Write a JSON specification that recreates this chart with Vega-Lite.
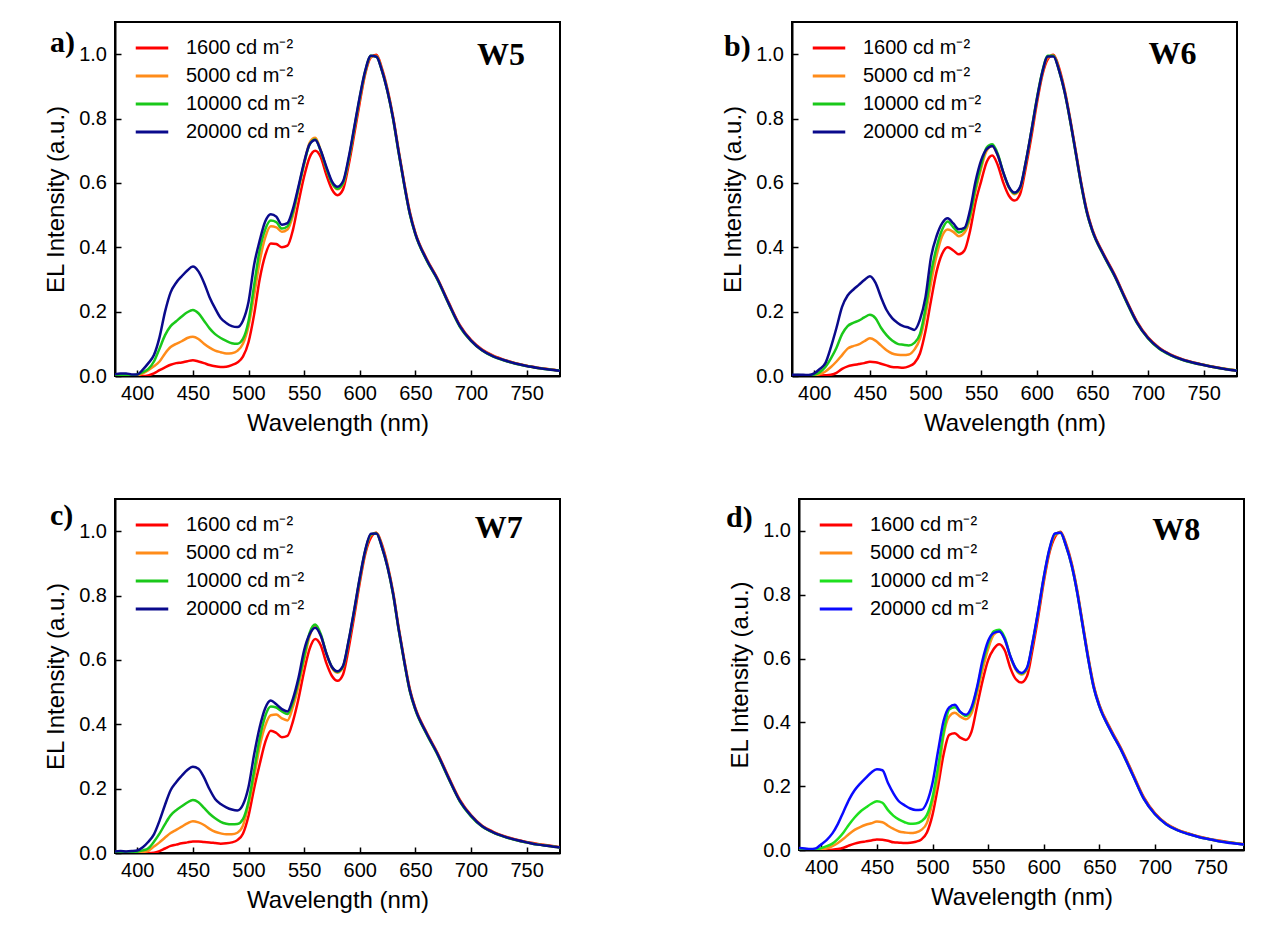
{
"$schema": "https://vega.github.io/schema/vega-lite/v6.json",
"padding": {"left": 43, "top": 21, "right": 0, "bottom": 0},
"autosize": {"type": "pad"},
"background": "white",
"config": {
 "view": {"stroke": "black", "strokeWidth": 2},
 "axis": {"domainColor": "black", "domainWidth": 2, "tickColor": "black", "tickWidth": 1.5, "labelColor": "black", "titleColor": "black", "labelFont": "Liberation Sans", "titleFont": "Liberation Sans", "labelFontSize": 20, "titleFontSize": 24, "titleFontWeight": "normal", "grid": false, "labelOverlap": false, "labelFlush": false},
 "legend": {"orient": "none", "legendX": 23, "legendY": 12, "title": null, "padding": 0, "symbolType": "M-1.3,0H1.3", "symbolSize": 625, "symbolStrokeWidth": 3, "labelFontSize": 20, "labelFont": "Liberation Sans", "labelColor": "black", "labelOffset": 20, "rowPadding": 4}
},
"datasets": {"spectra": [
{"p":"a","w":380,"r":0,"o":0,"g":0.002,"n":0.005},
{"p":"a","w":385,"r":0,"o":0.002,"g":0.004,"n":0.008},
{"p":"a","w":390,"r":0,"o":0.002,"g":0.004,"n":0.008},
{"p":"a","w":395,"r":0,"o":0,"g":0.002,"n":0.005},
{"p":"a","w":400,"r":0,"o":0.002,"g":0.005,"n":0.005},
{"p":"a","w":405,"r":0,"o":0.008,"g":0.012,"n":0.02},
{"p":"a","w":410,"r":0.002,"o":0.018,"g":0.022,"n":0.04},
{"p":"a","w":415,"r":0.008,"o":0.03,"g":0.045,"n":0.065},
{"p":"a","w":420,"r":0.018,"o":0.045,"g":0.085,"n":0.12},
{"p":"a","w":425,"r":0.027,"o":0.07,"g":0.127,"n":0.2},
{"p":"a","w":430,"r":0.035,"o":0.09,"g":0.155,"n":0.26},
{"p":"a","w":435,"r":0.04,"o":0.1,"g":0.17,"n":0.29},
{"p":"a","w":440,"r":0.042,"o":0.108,"g":0.185,"n":0.31},
{"p":"a","w":445,"r":0.046,"o":0.118,"g":0.198,"n":0.328},
{"p":"a","w":450,"r":0.049,"o":0.122,"g":0.205,"n":0.34},
{"p":"a","w":455,"r":0.045,"o":0.115,"g":0.195,"n":0.325},
{"p":"a","w":460,"r":0.04,"o":0.1,"g":0.172,"n":0.29},
{"p":"a","w":465,"r":0.034,"o":0.088,"g":0.148,"n":0.245},
{"p":"a","w":470,"r":0.03,"o":0.079,"g":0.13,"n":0.21},
{"p":"a","w":475,"r":0.028,"o":0.074,"g":0.118,"n":0.18},
{"p":"a","w":480,"r":0.029,"o":0.07,"g":0.109,"n":0.165},
{"p":"a","w":485,"r":0.034,"o":0.071,"g":0.102,"n":0.155},
{"p":"a","w":490,"r":0.042,"o":0.078,"g":0.1,"n":0.152},
{"p":"a","w":495,"r":0.06,"o":0.1,"g":0.115,"n":0.172},
{"p":"a","w":500,"r":0.105,"o":0.155,"g":0.17,"n":0.23},
{"p":"a","w":505,"r":0.19,"o":0.25,"g":0.28,"n":0.345},
{"p":"a","w":510,"r":0.3,"o":0.355,"g":0.39,"n":0.42},
{"p":"a","w":515,"r":0.375,"o":0.43,"g":0.455,"n":0.48},
{"p":"a","w":520,"r":0.412,"o":0.465,"g":0.483,"n":0.503},
{"p":"a","w":525,"r":0.41,"o":0.462,"g":0.478,"n":0.495},
{"p":"a","w":530,"r":0.4,"o":0.448,"g":0.458,"n":0.47},
{"p":"a","w":535,"r":0.405,"o":0.455,"g":0.465,"n":0.475},
{"p":"a","w":540,"r":0.455,"o":0.5,"g":0.51,"n":0.52},
{"p":"a","w":545,"r":0.54,"o":0.58,"g":0.585,"n":0.59},
{"p":"a","w":550,"r":0.62,"o":0.66,"g":0.66,"n":0.665},
{"p":"a","w":555,"r":0.68,"o":0.725,"g":0.72,"n":0.72},
{"p":"a","w":560,"r":0.7,"o":0.74,"g":0.735,"n":0.733},
{"p":"a","w":565,"r":0.68,"o":0.7,"g":0.698,"n":0.7},
{"p":"a","w":570,"r":0.625,"o":0.645,"g":0.645,"n":0.65},
{"p":"a","w":575,"r":0.58,"o":0.6,"g":0.6,"n":0.605},
{"p":"a","w":580,"r":0.562,"o":0.58,"g":0.582,"n":0.588},
{"p":"a","w":585,"r":0.58,"o":0.597,"g":0.6,"n":0.605},
{"p":"a","w":590,"r":0.655,"o":0.67,"g":0.672,"n":0.678},
{"p":"a","w":595,"r":0.75,"o":0.765,"g":0.768,"n":0.772},
{"p":"a","w":600,"r":0.85,"o":0.86,"g":0.865,"n":0.868},
{"p":"a","w":605,"r":0.94,"o":0.945,"g":0.948,"n":0.95},
{"p":"a","w":610,"r":0.99,"o":0.992,"g":0.995,"n":0.995},
{"p":"a","w":615,"r":0.998,"o":0.995,"g":0.992,"n":0.992},
{"p":"a","w":620,"r":0.955,"o":0.95,"g":0.948,"n":0.948},
{"p":"a","w":625,"r":0.89,"o":0.885,"g":0.883,"n":0.883},
{"p":"a","w":630,"r":0.805,"o":0.8,"g":0.798,"n":0.8},
{"p":"a","w":635,"r":0.7,"o":0.695,"g":0.693,"n":0.695},
{"p":"a","w":640,"r":0.6,"o":0.595,"g":0.593,"n":0.595},
{"p":"a","w":645,"r":0.51,"o":0.505,"g":0.503,"n":0.505},
{"p":"a","w":650,"r":0.445,"o":0.442,"g":0.44,"n":0.442},
{"p":"a","w":660,"r":0.365,"o":0.362,"g":0.36,"n":0.362},
{"p":"a","w":670,"r":0.302,"o":0.3,"g":0.298,"n":0.3},
{"p":"a","w":680,"r":0.228,"o":0.225,"g":0.223,"n":0.225},
{"p":"a","w":690,"r":0.158,"o":0.155,"g":0.153,"n":0.155},
{"p":"a","w":700,"r":0.112,"o":0.11,"g":0.109,"n":0.11},
{"p":"a","w":710,"r":0.082,"o":0.08,"g":0.079,"n":0.08},
{"p":"a","w":720,"r":0.063,"o":0.062,"g":0.06,"n":0.061},
{"p":"a","w":730,"r":0.05,"o":0.049,"g":0.048,"n":0.049},
{"p":"a","w":740,"r":0.04,"o":0.039,"g":0.038,"n":0.039},
{"p":"a","w":750,"r":0.032,"o":0.031,"g":0.031,"n":0.031},
{"p":"a","w":760,"r":0.026,"o":0.025,"g":0.025,"n":0.025},
{"p":"a","w":770,"r":0.021,"o":0.021,"g":0.02,"n":0.02},
{"p":"a","w":780,"r":0.017,"o":0.017,"g":0.017,"n":0.016},
{"p":"b","w":380,"r":0.002,"o":0.002,"g":0.002,"n":0.004},
{"p":"b","w":385,"r":0.002,"o":0.002,"g":0.003,"n":0.004},
{"p":"b","w":390,"r":0.001,"o":0.002,"g":0.002,"n":0.004},
{"p":"b","w":395,"r":0,"o":0,"g":0.001,"n":0.003},
{"p":"b","w":400,"r":0,"o":0.002,"g":0.004,"n":0.008},
{"p":"b","w":405,"r":0.001,"o":0.006,"g":0.012,"n":0.022},
{"p":"b","w":410,"r":0.002,"o":0.014,"g":0.028,"n":0.04},
{"p":"b","w":415,"r":0.004,"o":0.028,"g":0.055,"n":0.09},
{"p":"b","w":420,"r":0.01,"o":0.045,"g":0.088,"n":0.15},
{"p":"b","w":425,"r":0.022,"o":0.065,"g":0.13,"n":0.215},
{"p":"b","w":430,"r":0.03,"o":0.085,"g":0.155,"n":0.25},
{"p":"b","w":435,"r":0.034,"o":0.093,"g":0.165,"n":0.268},
{"p":"b","w":440,"r":0.037,"o":0.098,"g":0.172,"n":0.283},
{"p":"b","w":445,"r":0.04,"o":0.108,"g":0.182,"n":0.298},
{"p":"b","w":450,"r":0.044,"o":0.117,"g":0.19,"n":0.31},
{"p":"b","w":455,"r":0.043,"o":0.11,"g":0.18,"n":0.29},
{"p":"b","w":460,"r":0.038,"o":0.095,"g":0.15,"n":0.245},
{"p":"b","w":465,"r":0.033,"o":0.08,"g":0.127,"n":0.205},
{"p":"b","w":470,"r":0.028,"o":0.07,"g":0.11,"n":0.18},
{"p":"b","w":475,"r":0.027,"o":0.066,"g":0.1,"n":0.165},
{"p":"b","w":480,"r":0.026,"o":0.065,"g":0.097,"n":0.155},
{"p":"b","w":485,"r":0.03,"o":0.067,"g":0.095,"n":0.15},
{"p":"b","w":490,"r":0.04,"o":0.082,"g":0.103,"n":0.143},
{"p":"b","w":495,"r":0.07,"o":0.115,"g":0.13,"n":0.175},
{"p":"b","w":500,"r":0.14,"o":0.19,"g":0.21,"n":0.245},
{"p":"b","w":505,"r":0.235,"o":0.29,"g":0.32,"n":0.37},
{"p":"b","w":510,"r":0.325,"o":0.375,"g":0.4,"n":0.435},
{"p":"b","w":515,"r":0.38,"o":0.435,"g":0.455,"n":0.475},
{"p":"b","w":520,"r":0.4,"o":0.455,"g":0.48,"n":0.49},
{"p":"b","w":525,"r":0.39,"o":0.448,"g":0.462,"n":0.474},
{"p":"b","w":530,"r":0.378,"o":0.434,"g":0.446,"n":0.456},
{"p":"b","w":535,"r":0.39,"o":0.445,"g":0.456,"n":0.46},
{"p":"b","w":540,"r":0.45,"o":0.49,"g":0.5,"n":0.515},
{"p":"b","w":545,"r":0.54,"o":0.575,"g":0.585,"n":0.605},
{"p":"b","w":550,"r":0.605,"o":0.645,"g":0.655,"n":0.67},
{"p":"b","w":555,"r":0.665,"o":0.7,"g":0.71,"n":0.705},
{"p":"b","w":560,"r":0.685,"o":0.715,"g":0.72,"n":0.715},
{"p":"b","w":565,"r":0.655,"o":0.685,"g":0.69,"n":0.685},
{"p":"b","w":570,"r":0.6,"o":0.63,"g":0.632,"n":0.632},
{"p":"b","w":575,"r":0.56,"o":0.585,"g":0.587,"n":0.588},
{"p":"b","w":580,"r":0.545,"o":0.565,"g":0.568,"n":0.57},
{"p":"b","w":585,"r":0.565,"o":0.582,"g":0.585,"n":0.587},
{"p":"b","w":590,"r":0.645,"o":0.66,"g":0.662,"n":0.663},
{"p":"b","w":595,"r":0.74,"o":0.755,"g":0.758,"n":0.758},
{"p":"b","w":600,"r":0.845,"o":0.855,"g":0.86,"n":0.858},
{"p":"b","w":605,"r":0.935,"o":0.942,"g":0.946,"n":0.944},
{"p":"b","w":610,"r":0.985,"o":0.99,"g":0.995,"n":0.993},
{"p":"b","w":615,"r":0.998,"o":0.996,"g":0.995,"n":0.993},
{"p":"b","w":620,"r":0.958,"o":0.952,"g":0.95,"n":0.95},
{"p":"b","w":625,"r":0.89,"o":0.885,"g":0.883,"n":0.883},
{"p":"b","w":630,"r":0.8,"o":0.795,"g":0.793,"n":0.795},
{"p":"b","w":635,"r":0.7,"o":0.695,"g":0.693,"n":0.695},
{"p":"b","w":640,"r":0.6,"o":0.595,"g":0.593,"n":0.595},
{"p":"b","w":645,"r":0.515,"o":0.51,"g":0.508,"n":0.51},
{"p":"b","w":650,"r":0.455,"o":0.452,"g":0.45,"n":0.452},
{"p":"b","w":660,"r":0.38,"o":0.377,"g":0.375,"n":0.377},
{"p":"b","w":670,"r":0.315,"o":0.312,"g":0.31,"n":0.312},
{"p":"b","w":680,"r":0.24,"o":0.237,"g":0.235,"n":0.237},
{"p":"b","w":690,"r":0.17,"o":0.167,"g":0.165,"n":0.167},
{"p":"b","w":700,"r":0.12,"o":0.118,"g":0.117,"n":0.118},
{"p":"b","w":710,"r":0.088,"o":0.086,"g":0.085,"n":0.086},
{"p":"b","w":720,"r":0.067,"o":0.066,"g":0.065,"n":0.066},
{"p":"b","w":730,"r":0.053,"o":0.052,"g":0.051,"n":0.052},
{"p":"b","w":740,"r":0.043,"o":0.042,"g":0.041,"n":0.042},
{"p":"b","w":750,"r":0.035,"o":0.034,"g":0.034,"n":0.034},
{"p":"b","w":760,"r":0.028,"o":0.027,"g":0.027,"n":0.027},
{"p":"b","w":770,"r":0.022,"o":0.022,"g":0.021,"n":0.021},
{"p":"b","w":780,"r":0.017,"o":0.017,"g":0.017,"n":0.016},
{"p":"c","w":380,"r":0.003,"o":0.002,"g":0.003,"n":0.005},
{"p":"c","w":385,"r":0.002,"o":0.003,"g":0.004,"n":0.006},
{"p":"c","w":390,"r":0.002,"o":0.002,"g":0.003,"n":0.005},
{"p":"c","w":395,"r":0,"o":0.001,"g":0.003,"n":0.006},
{"p":"c","w":400,"r":0,"o":0.001,"g":0.004,"n":0.008},
{"p":"c","w":405,"r":0,"o":0.003,"g":0.008,"n":0.018},
{"p":"c","w":410,"r":0,"o":0.007,"g":0.015,"n":0.035},
{"p":"c","w":415,"r":0.001,"o":0.02,"g":0.035,"n":0.058},
{"p":"c","w":420,"r":0.006,"o":0.033,"g":0.06,"n":0.1},
{"p":"c","w":425,"r":0.014,"o":0.048,"g":0.09,"n":0.15},
{"p":"c","w":430,"r":0.022,"o":0.062,"g":0.117,"n":0.195},
{"p":"c","w":435,"r":0.026,"o":0.072,"g":0.133,"n":0.22},
{"p":"c","w":440,"r":0.03,"o":0.082,"g":0.145,"n":0.24},
{"p":"c","w":445,"r":0.033,"o":0.092,"g":0.157,"n":0.258},
{"p":"c","w":450,"r":0.036,"o":0.099,"g":0.165,"n":0.268},
{"p":"c","w":455,"r":0.036,"o":0.095,"g":0.158,"n":0.262},
{"p":"c","w":460,"r":0.034,"o":0.087,"g":0.14,"n":0.235},
{"p":"c","w":465,"r":0.033,"o":0.075,"g":0.122,"n":0.198},
{"p":"c","w":470,"r":0.031,"o":0.066,"g":0.108,"n":0.168},
{"p":"c","w":475,"r":0.029,"o":0.061,"g":0.097,"n":0.152},
{"p":"c","w":480,"r":0.03,"o":0.058,"g":0.091,"n":0.142},
{"p":"c","w":485,"r":0.033,"o":0.058,"g":0.089,"n":0.135},
{"p":"c","w":490,"r":0.04,"o":0.063,"g":0.09,"n":0.132},
{"p":"c","w":495,"r":0.06,"o":0.085,"g":0.105,"n":0.15},
{"p":"c","w":500,"r":0.115,"o":0.15,"g":0.16,"n":0.205},
{"p":"c","w":505,"r":0.2,"o":0.235,"g":0.255,"n":0.305},
{"p":"c","w":510,"r":0.275,"o":0.33,"g":0.355,"n":0.39},
{"p":"c","w":515,"r":0.344,"o":0.395,"g":0.425,"n":0.45},
{"p":"c","w":520,"r":0.38,"o":0.428,"g":0.455,"n":0.474},
{"p":"c","w":525,"r":0.373,"o":0.43,"g":0.452,"n":0.462},
{"p":"c","w":530,"r":0.36,"o":0.418,"g":0.44,"n":0.447},
{"p":"c","w":535,"r":0.364,"o":0.412,"g":0.432,"n":0.44},
{"p":"c","w":540,"r":0.41,"o":0.455,"g":0.47,"n":0.48},
{"p":"c","w":545,"r":0.48,"o":0.52,"g":0.535,"n":0.545},
{"p":"c","w":550,"r":0.565,"o":0.6,"g":0.61,"n":0.63},
{"p":"c","w":555,"r":0.635,"o":0.675,"g":0.685,"n":0.68},
{"p":"c","w":560,"r":0.665,"o":0.705,"g":0.71,"n":0.7},
{"p":"c","w":565,"r":0.645,"o":0.675,"g":0.68,"n":0.675},
{"p":"c","w":570,"r":0.59,"o":0.62,"g":0.62,"n":0.62},
{"p":"c","w":575,"r":0.55,"o":0.575,"g":0.578,"n":0.578},
{"p":"c","w":580,"r":0.535,"o":0.56,"g":0.563,"n":0.565},
{"p":"c","w":585,"r":0.555,"o":0.578,"g":0.58,"n":0.582},
{"p":"c","w":590,"r":0.635,"o":0.655,"g":0.658,"n":0.66},
{"p":"c","w":595,"r":0.735,"o":0.75,"g":0.753,"n":0.755},
{"p":"c","w":600,"r":0.84,"o":0.85,"g":0.853,"n":0.855},
{"p":"c","w":605,"r":0.93,"o":0.938,"g":0.94,"n":0.942},
{"p":"c","w":610,"r":0.98,"o":0.988,"g":0.99,"n":0.992},
{"p":"c","w":615,"r":0.995,"o":0.995,"g":0.993,"n":0.993},
{"p":"c","w":620,"r":0.958,"o":0.952,"g":0.95,"n":0.95},
{"p":"c","w":625,"r":0.895,"o":0.89,"g":0.888,"n":0.888},
{"p":"c","w":630,"r":0.81,"o":0.805,"g":0.803,"n":0.805},
{"p":"c","w":635,"r":0.7,"o":0.695,"g":0.693,"n":0.695},
{"p":"c","w":640,"r":0.6,"o":0.595,"g":0.593,"n":0.595},
{"p":"c","w":645,"r":0.51,"o":0.505,"g":0.503,"n":0.505},
{"p":"c","w":650,"r":0.45,"o":0.447,"g":0.445,"n":0.447},
{"p":"c","w":660,"r":0.375,"o":0.372,"g":0.37,"n":0.372},
{"p":"c","w":670,"r":0.31,"o":0.307,"g":0.305,"n":0.307},
{"p":"c","w":680,"r":0.235,"o":0.232,"g":0.23,"n":0.232},
{"p":"c","w":690,"r":0.165,"o":0.162,"g":0.16,"n":0.162},
{"p":"c","w":700,"r":0.118,"o":0.116,"g":0.114,"n":0.116},
{"p":"c","w":710,"r":0.085,"o":0.083,"g":0.082,"n":0.083},
{"p":"c","w":720,"r":0.066,"o":0.064,"g":0.063,"n":0.064},
{"p":"c","w":730,"r":0.052,"o":0.051,"g":0.05,"n":0.051},
{"p":"c","w":740,"r":0.042,"o":0.041,"g":0.04,"n":0.041},
{"p":"c","w":750,"r":0.034,"o":0.033,"g":0.033,"n":0.033},
{"p":"c","w":760,"r":0.028,"o":0.027,"g":0.026,"n":0.026},
{"p":"c","w":770,"r":0.023,"o":0.022,"g":0.022,"n":0.022},
{"p":"c","w":780,"r":0.018,"o":0.018,"g":0.017,"n":0.017},
{"p":"d","w":380,"r":0.003,"o":0.003,"g":0.004,"n":0.006},
{"p":"d","w":385,"r":0.002,"o":0.002,"g":0.003,"n":0.005},
{"p":"d","w":390,"r":0.001,"o":0.001,"g":0.002,"n":0.003},
{"p":"d","w":395,"r":0,"o":0,"g":0.002,"n":0.005},
{"p":"d","w":400,"r":0,"o":0.002,"g":0.006,"n":0.018},
{"p":"d","w":405,"r":0,"o":0.005,"g":0.012,"n":0.032},
{"p":"d","w":410,"r":0.001,"o":0.012,"g":0.02,"n":0.052},
{"p":"d","w":415,"r":0.003,"o":0.022,"g":0.035,"n":0.082},
{"p":"d","w":420,"r":0.007,"o":0.035,"g":0.055,"n":0.12},
{"p":"d","w":425,"r":0.014,"o":0.05,"g":0.08,"n":0.158},
{"p":"d","w":430,"r":0.02,"o":0.063,"g":0.102,"n":0.187},
{"p":"d","w":435,"r":0.024,"o":0.072,"g":0.12,"n":0.208},
{"p":"d","w":440,"r":0.027,"o":0.079,"g":0.133,"n":0.226},
{"p":"d","w":445,"r":0.03,"o":0.084,"g":0.145,"n":0.243},
{"p":"d","w":450,"r":0.033,"o":0.089,"g":0.153,"n":0.253},
{"p":"d","w":455,"r":0.032,"o":0.087,"g":0.148,"n":0.25},
{"p":"d","w":460,"r":0.029,"o":0.076,"g":0.125,"n":0.21},
{"p":"d","w":465,"r":0.024,"o":0.066,"g":0.107,"n":0.177},
{"p":"d","w":470,"r":0.023,"o":0.058,"g":0.095,"n":0.152},
{"p":"d","w":475,"r":0.022,"o":0.055,"g":0.087,"n":0.14},
{"p":"d","w":480,"r":0.023,"o":0.053,"g":0.082,"n":0.13},
{"p":"d","w":485,"r":0.026,"o":0.055,"g":0.083,"n":0.125},
{"p":"d","w":490,"r":0.033,"o":0.063,"g":0.09,"n":0.126},
{"p":"d","w":495,"r":0.055,"o":0.085,"g":0.11,"n":0.15},
{"p":"d","w":500,"r":0.11,"o":0.15,"g":0.165,"n":0.21},
{"p":"d","w":505,"r":0.2,"o":0.23,"g":0.26,"n":0.31},
{"p":"d","w":510,"r":0.3,"o":0.36,"g":0.37,"n":0.405},
{"p":"d","w":515,"r":0.361,"o":0.418,"g":0.44,"n":0.447},
{"p":"d","w":520,"r":0.366,"o":0.43,"g":0.447,"n":0.455},
{"p":"d","w":525,"r":0.352,"o":0.418,"g":0.432,"n":0.433},
{"p":"d","w":530,"r":0.345,"o":0.41,"g":0.42,"n":0.424},
{"p":"d","w":535,"r":0.37,"o":0.428,"g":0.44,"n":0.447},
{"p":"d","w":540,"r":0.45,"o":0.49,"g":0.505,"n":0.51},
{"p":"d","w":545,"r":0.53,"o":0.565,"g":0.585,"n":0.595},
{"p":"d","w":550,"r":0.595,"o":0.63,"g":0.645,"n":0.655},
{"p":"d","w":555,"r":0.63,"o":0.675,"g":0.685,"n":0.68},
{"p":"d","w":560,"r":0.645,"o":0.685,"g":0.69,"n":0.685},
{"p":"d","w":565,"r":0.625,"o":0.66,"g":0.665,"n":0.66},
{"p":"d","w":570,"r":0.57,"o":0.605,"g":0.607,"n":0.607},
{"p":"d","w":575,"r":0.535,"o":0.565,"g":0.568,"n":0.568},
{"p":"d","w":580,"r":0.525,"o":0.55,"g":0.553,"n":0.555},
{"p":"d","w":585,"r":0.545,"o":0.567,"g":0.57,"n":0.572},
{"p":"d","w":590,"r":0.63,"o":0.648,"g":0.65,"n":0.652},
{"p":"d","w":595,"r":0.73,"o":0.745,"g":0.748,"n":0.75},
{"p":"d","w":600,"r":0.84,"o":0.85,"g":0.853,"n":0.855},
{"p":"d","w":605,"r":0.93,"o":0.937,"g":0.94,"n":0.942},
{"p":"d","w":610,"r":0.98,"o":0.987,"g":0.99,"n":0.992},
{"p":"d","w":615,"r":0.997,"o":0.995,"g":0.994,"n":0.994},
{"p":"d","w":620,"r":0.96,"o":0.955,"g":0.953,"n":0.953},
{"p":"d","w":625,"r":0.9,"o":0.895,"g":0.893,"n":0.893},
{"p":"d","w":630,"r":0.815,"o":0.81,"g":0.808,"n":0.808},
{"p":"d","w":635,"r":0.71,"o":0.705,"g":0.703,"n":0.703},
{"p":"d","w":640,"r":0.605,"o":0.6,"g":0.598,"n":0.598},
{"p":"d","w":645,"r":0.515,"o":0.51,"g":0.508,"n":0.508},
{"p":"d","w":650,"r":0.455,"o":0.452,"g":0.45,"n":0.45},
{"p":"d","w":660,"r":0.38,"o":0.377,"g":0.375,"n":0.375},
{"p":"d","w":670,"r":0.315,"o":0.312,"g":0.31,"n":0.31},
{"p":"d","w":680,"r":0.24,"o":0.237,"g":0.235,"n":0.235},
{"p":"d","w":690,"r":0.165,"o":0.162,"g":0.16,"n":0.16},
{"p":"d","w":700,"r":0.115,"o":0.113,"g":0.112,"n":0.112},
{"p":"d","w":710,"r":0.083,"o":0.082,"g":0.081,"n":0.081},
{"p":"d","w":720,"r":0.064,"o":0.063,"g":0.062,"n":0.062},
{"p":"d","w":730,"r":0.052,"o":0.051,"g":0.05,"n":0.05},
{"p":"d","w":740,"r":0.042,"o":0.041,"g":0.04,"n":0.04},
{"p":"d","w":750,"r":0.034,"o":0.033,"g":0.033,"n":0.033},
{"p":"d","w":760,"r":0.028,"o":0.027,"g":0.026,"n":0.026},
{"p":"d","w":770,"r":0.023,"o":0.022,"g":0.022,"n":0.021},
{"p":"d","w":780,"r":0.018,"o":0.018,"g":0.017,"n":0.017}
]},
"spacing": 61,
"resolve": {"scale": {"color": "independent", "x": "independent", "y": "independent"}, "axis": {"x": "independent", "y": "independent"}, "legend": {"color": "independent"}},
"vconcat": [
 {"spacing": 159,
  "resolve": {"scale": {"color": "independent", "x": "independent", "y": "independent"}, "axis": {"x": "independent", "y": "independent"}, "legend": {"color": "independent"}},
  "hconcat": [
  {"width": 445, "height": 354, "layer": [
   {"data": {"name": "spectra"}, "transform": [{"filter": "datum.p === 'a'"}, {"fold": ["r","o","g","n"], "as": ["s","v"]}],
    "mark": {"type": "line", "strokeWidth": 2.5, "interpolate": "monotone", "clip": true},
    "encoding": {
     "x": {"field": "w", "type": "quantitative", "scale": {"domain": [380, 780], "nice": false, "zero": false}, "axis": {"title": "Wavelength (nm)", "values": [400,425,450,475,500,525,550,575,600,625,650,675,700,725,750,775], "labelExpr": "datum.value % 50 === 0 ? datum.label : ''", "format": "d", "tickSize": {"condition": {"test": "datum.value % 50 === 0", "value": -6}, "value": -3.5}, "labelPadding": 13.5, "titlePadding": 8}},
     "y": {"field": "v", "type": "quantitative", "scale": {"domain": [0, 1.1], "nice": false}, "axis": {"title": "EL Intensity (a.u.)", "values": [0,0.1,0.2,0.3,0.4,0.5,0.6,0.7,0.8,0.9,1.0], "labelExpr": "round(datum.value*10) % 2 === 0 ? format(datum.value, '.1f') : ''", "tickSize": {"condition": {"test": "round(datum.value*10) % 2 === 0", "value": -6}, "value": -3.5}, "labelPadding": 14.5, "titlePadding": 10}},
     "color": {"field": "s", "type": "nominal", "scale": {"domain": ["r","o","g","n"], "range": ["#FF0000","#FF8C1A","#1AC81A","#0A0A8C"]}, "legend": {"labelExpr": "datum.label === 'r' ? '1600 cd m⁻²' : datum.label === 'o' ? '5000 cd m⁻²' : datum.label === 'g' ? '10000 cd m⁻²' : '20000 cd m⁻²'"}}
    }},
   {"data": {"values": [{}]}, "mark": {"type": "text", "text": "a)", "font": "Liberation Serif", "fontWeight": "bold", "fontSize": 30, "align": "left", "baseline": "alphabetic", "dx": -65}, "encoding": {"x": {"datum": 380, "type": "quantitative"}, "y": {"datum": 1.0075, "type": "quantitative"}}},
   {"data": {"values": [{}]}, "mark": {"type": "text", "text": "W5", "font": "Liberation Serif", "fontWeight": "bold", "fontSize": 32, "align": "center", "baseline": "alphabetic"}, "encoding": {"x": {"datum": 727, "type": "quantitative"}, "y": {"datum": 0.967, "type": "quantitative"}}}
  ]},
  {"width": 445, "height": 354, "layer": [
   {"data": {"name": "spectra"}, "transform": [{"filter": "datum.p === 'b'"}, {"fold": ["r","o","g","n"], "as": ["s","v"]}],
    "mark": {"type": "line", "strokeWidth": 2.5, "interpolate": "monotone", "clip": true},
    "encoding": {
     "x": {"field": "w", "type": "quantitative", "scale": {"domain": [380, 780], "nice": false, "zero": false}, "axis": {"title": "Wavelength (nm)", "values": [400,425,450,475,500,525,550,575,600,625,650,675,700,725,750,775], "labelExpr": "datum.value % 50 === 0 ? datum.label : ''", "format": "d", "tickSize": {"condition": {"test": "datum.value % 50 === 0", "value": -6}, "value": -3.5}, "labelPadding": 13.5, "titlePadding": 8}},
     "y": {"field": "v", "type": "quantitative", "scale": {"domain": [0, 1.1], "nice": false}, "axis": {"title": "EL Intensity (a.u.)", "values": [0,0.1,0.2,0.3,0.4,0.5,0.6,0.7,0.8,0.9,1.0], "labelExpr": "round(datum.value*10) % 2 === 0 ? format(datum.value, '.1f') : ''", "tickSize": {"condition": {"test": "round(datum.value*10) % 2 === 0", "value": -6}, "value": -3.5}, "labelPadding": 14.5, "titlePadding": 10}},
     "color": {"field": "s", "type": "nominal", "scale": {"domain": ["r","o","g","n"], "range": ["#FF0000","#FF8C1A","#1AC81A","#0A0A8C"]}, "legend": {"labelExpr": "datum.label === 'r' ? '1600 cd m⁻²' : datum.label === 'o' ? '5000 cd m⁻²' : datum.label === 'g' ? '10000 cd m⁻²' : '20000 cd m⁻²'"}}
    }},
   {"data": {"values": [{}]}, "mark": {"type": "text", "text": "b)", "font": "Liberation Serif", "fontWeight": "bold", "fontSize": 30, "align": "left", "baseline": "alphabetic", "dx": -68}, "encoding": {"x": {"datum": 380, "type": "quantitative"}, "y": {"datum": 0.995, "type": "quantitative"}}},
   {"data": {"values": [{}]}, "mark": {"type": "text", "text": "W6", "font": "Liberation Serif", "fontWeight": "bold", "fontSize": 32, "align": "center", "baseline": "alphabetic"}, "encoding": {"x": {"datum": 722, "type": "quantitative"}, "y": {"datum": 0.97, "type": "quantitative"}}}
  ]}
 ]},
 {"spacing": 164,
  "resolve": {"scale": {"color": "independent", "x": "independent", "y": "independent"}, "axis": {"x": "independent", "y": "independent"}, "legend": {"color": "independent"}},
  "hconcat": [
  {"width": 445, "height": 354, "layer": [
   {"data": {"name": "spectra"}, "transform": [{"filter": "datum.p === 'c'"}, {"fold": ["r","o","g","n"], "as": ["s","v"]}],
    "mark": {"type": "line", "strokeWidth": 2.5, "interpolate": "monotone", "clip": true},
    "encoding": {
     "x": {"field": "w", "type": "quantitative", "scale": {"domain": [380, 780], "nice": false, "zero": false}, "axis": {"title": "Wavelength (nm)", "values": [400,425,450,475,500,525,550,575,600,625,650,675,700,725,750,775], "labelExpr": "datum.value % 50 === 0 ? datum.label : ''", "format": "d", "tickSize": {"condition": {"test": "datum.value % 50 === 0", "value": -6}, "value": -3.5}, "labelPadding": 13.5, "titlePadding": 8}},
     "y": {"field": "v", "type": "quantitative", "scale": {"domain": [0, 1.1], "nice": false}, "axis": {"title": "EL Intensity (a.u.)", "values": [0,0.1,0.2,0.3,0.4,0.5,0.6,0.7,0.8,0.9,1.0], "labelExpr": "round(datum.value*10) % 2 === 0 ? format(datum.value, '.1f') : ''", "tickSize": {"condition": {"test": "round(datum.value*10) % 2 === 0", "value": -6}, "value": -3.5}, "labelPadding": 14.5, "titlePadding": 10}},
     "color": {"field": "s", "type": "nominal", "scale": {"domain": ["r","o","g","n"], "range": ["#FF0000","#FF8C1A","#1AC81A","#0A0A8C"]}, "legend": {"labelExpr": "datum.label === 'r' ? '1600 cd m⁻²' : datum.label === 'o' ? '5000 cd m⁻²' : datum.label === 'g' ? '10000 cd m⁻²' : '20000 cd m⁻²'"}}
    }},
   {"data": {"values": [{}]}, "mark": {"type": "text", "text": "c)", "font": "Liberation Serif", "fontWeight": "bold", "fontSize": 30, "align": "left", "baseline": "alphabetic", "dx": -65}, "encoding": {"x": {"datum": 380, "type": "quantitative"}, "y": {"datum": 1.02, "type": "quantitative"}}},
   {"data": {"values": [{}]}, "mark": {"type": "text", "text": "W7", "font": "Liberation Serif", "fontWeight": "bold", "fontSize": 32, "align": "center", "baseline": "alphabetic"}, "encoding": {"x": {"datum": 725, "type": "quantitative"}, "y": {"datum": 0.979, "type": "quantitative"}}}
  ]},
  {"width": 445, "height": 351, "layer": [
   {"data": {"name": "spectra"}, "transform": [{"filter": "datum.p === 'd'"}, {"fold": ["r","o","g","n"], "as": ["s","v"]}],
    "mark": {"type": "line", "strokeWidth": 2.5, "interpolate": "monotone", "clip": true},
    "encoding": {
     "x": {"field": "w", "type": "quantitative", "scale": {"domain": [380, 780], "nice": false, "zero": false}, "axis": {"title": "Wavelength (nm)", "values": [400,425,450,475,500,525,550,575,600,625,650,675,700,725,750,775], "labelExpr": "datum.value % 50 === 0 ? datum.label : ''", "format": "d", "tickSize": {"condition": {"test": "datum.value % 50 === 0", "value": -6}, "value": -3.5}, "labelPadding": 13.5, "titlePadding": 8}},
     "y": {"field": "v", "type": "quantitative", "scale": {"domain": [0, 1.1], "nice": false}, "axis": {"title": "EL Intensity (a.u.)", "values": [0,0.1,0.2,0.3,0.4,0.5,0.6,0.7,0.8,0.9,1.0], "labelExpr": "round(datum.value*10) % 2 === 0 ? format(datum.value, '.1f') : ''", "tickSize": {"condition": {"test": "round(datum.value*10) % 2 === 0", "value": -6}, "value": -3.5}, "labelPadding": 14.5, "titlePadding": 10}},
     "color": {"field": "s", "type": "nominal", "scale": {"domain": ["r","o","g","n"], "range": ["#FF0000","#FF8C1A","#1EE01E","#0A0AFF"]}, "legend": {"labelExpr": "datum.label === 'r' ? '1600 cd m⁻²' : datum.label === 'o' ? '5000 cd m⁻²' : datum.label === 'g' ? '10000 cd m⁻²' : '20000 cd m⁻²'"}}
    }},
   {"data": {"values": [{}]}, "mark": {"type": "text", "text": "d)", "font": "Liberation Serif", "fontWeight": "bold", "fontSize": 30, "align": "left", "baseline": "alphabetic", "dx": -73}, "encoding": {"x": {"datum": 380, "type": "quantitative"}, "y": {"datum": 1.013, "type": "quantitative"}}},
   {"data": {"values": [{}]}, "mark": {"type": "text", "text": "W8", "font": "Liberation Serif", "fontWeight": "bold", "fontSize": 32, "align": "center", "baseline": "alphabetic"}, "encoding": {"x": {"datum": 719, "type": "quantitative"}, "y": {"datum": 0.973, "type": "quantitative"}}}
  ]}
 ]}
]
}
